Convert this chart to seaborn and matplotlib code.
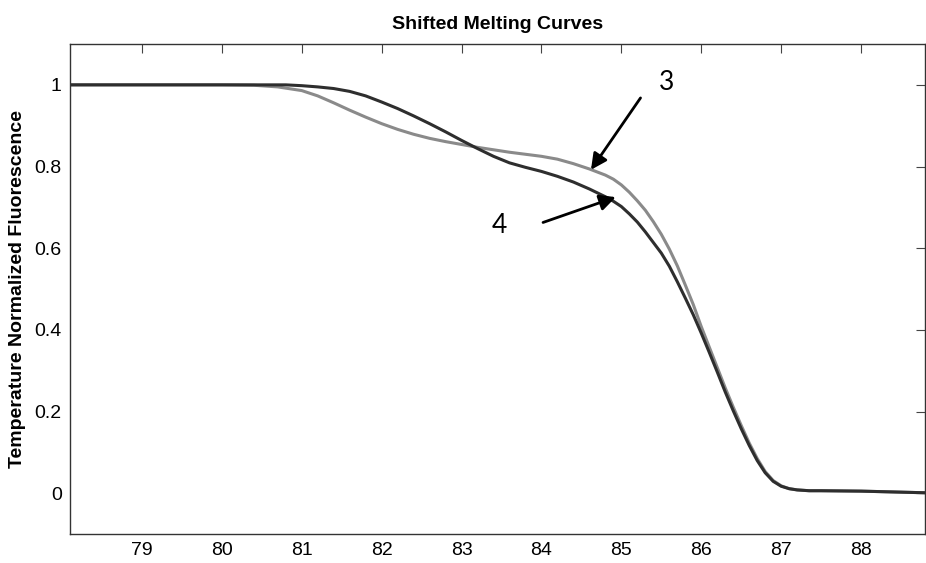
import pandas as pd
import matplotlib
matplotlib.use('Agg')
import matplotlib.pyplot as plt
import seaborn as sns

# curve 3 (light grey)
temp_3 = [78.1, 79.0, 80.0, 80.4, 80.7, 81.0, 81.2, 81.4, 81.6, 81.8, 82.0, 82.2,
          82.4, 82.6, 82.8, 83.0, 83.2, 83.4, 83.6, 83.8, 84.0, 84.2, 84.4, 84.6,
          84.8, 84.9, 85.0, 85.1, 85.2, 85.3, 85.4, 85.5, 85.6, 85.7, 85.8, 85.9,
          86.0, 86.1, 86.2, 86.3, 86.4, 86.5, 86.6, 86.7, 86.8, 86.9, 87.0, 87.1,
          87.2, 87.35, 87.5, 88.0, 88.4, 88.8]
fluor_3 = [1.000, 1.000, 1.000, 0.999, 0.995, 0.986, 0.973, 0.956, 0.938, 0.921,
           0.905, 0.891, 0.879, 0.869, 0.861, 0.854, 0.847, 0.841, 0.835, 0.830,
           0.825, 0.818, 0.807, 0.794, 0.779, 0.769, 0.755, 0.737, 0.716, 0.693,
           0.665, 0.634, 0.598, 0.557, 0.510, 0.462, 0.408, 0.358, 0.308, 0.258,
           0.211, 0.166, 0.123, 0.085, 0.053, 0.031, 0.018, 0.011, 0.008, 0.006,
           0.006, 0.005, 0.003, 0.001]

# curve 4 (dark grey)
temp_4 = [78.1, 80.0, 80.8, 81.0, 81.2, 81.4, 81.6, 81.8, 82.0, 82.2, 82.4, 82.6,
          82.8, 83.0, 83.2, 83.4, 83.6, 83.8, 84.0, 84.2, 84.4, 84.6, 84.8, 84.9,
          85.0, 85.1, 85.2, 85.3, 85.4, 85.5, 85.6, 85.7, 85.8, 85.9, 86.0, 86.1,
          86.2, 86.3, 86.4, 86.5, 86.6, 86.7, 86.8, 86.9, 87.0, 87.1, 87.2, 87.35,
          87.5, 88.0, 88.4, 88.8]
fluor_4 = [1.000, 1.000, 1.000, 0.998, 0.995, 0.991, 0.984, 0.973, 0.958, 0.942,
           0.924, 0.905, 0.885, 0.864, 0.844, 0.825, 0.809, 0.798, 0.788, 0.776,
           0.762, 0.745, 0.726, 0.715, 0.702, 0.684, 0.664, 0.640, 0.614, 0.588,
           0.556, 0.518, 0.478, 0.437, 0.392, 0.345, 0.297, 0.248, 0.202, 0.158,
           0.117, 0.080, 0.050, 0.029, 0.017, 0.011, 0.008, 0.006, 0.006, 0.005,
           0.003, 0.001]

x_ticks = [79, 80, 81, 82, 83, 84, 85, 86, 87, 88]
y_ticks = [0, 0.2, 0.4, 0.6, 0.8, 1]
y_tick_labels = ['0', '0.2', '0.4', '0.6', '0.8', '1']

df = pd.concat([
    pd.DataFrame({'temp': temp_3, 'fluor': fluor_3, 'curve': '3'}),
    pd.DataFrame({'temp': temp_4, 'fluor': fluor_4, 'curve': '4'}),
], ignore_index=True)

sns.set_style('white')
plt.rcParams['font.family'] = ['Liberation Sans', 'DejaVu Sans']
plt.rcParams['text.color'] = 'black'
plt.rcParams['axes.labelcolor'] = 'black'
plt.rcParams['xtick.labelcolor'] = 'black'
plt.rcParams['ytick.labelcolor'] = 'black'

fig = plt.figure(figsize=(9.26, 5.63), dpi=100)
ax = fig.add_axes([0.0756, 0.0515, 0.9233, 0.8703])

sns.lineplot(data=df, x='temp', y='fluor', hue='curve', hue_order=['3', '4'],
             palette={'3': '#8a8a8a', '4': '#2e2e2e'}, linewidth=2.2,
             estimator=None, sort=False, legend=False, ax=ax)

ax.set_xlim(78.1, 88.8)
ax.set_ylim(-0.1, 1.1)
ax.set_xticks(x_ticks)
ax.set_xticklabels([str(t) for t in x_ticks])
ax.set_yticks(y_ticks)
ax.set_yticklabels(y_tick_labels)
ax.tick_params(direction='in', length=6.5, width=0.8, color='#444444',
               labelsize=14, pad=6, top=True, right=True)
for s in ax.spines.values():
    s.set_color('#333333')
    s.set_linewidth(1.0)

ax.set_xlabel('')
ax.set_ylabel('Temperature Normalized Fluorescence', fontsize=14, fontweight='bold', labelpad=6)
ax.set_title('Shifted Melting Curves', fontsize=14, fontweight='bold', pad=10.5)

# arrows marking the two curves
arrow = dict(arrowstyle='-|>', color='black', lw=2, mutation_scale=24, shrinkA=0, shrinkB=0)
ax.annotate('', xy=(84.62, 0.792), xytext=(85.24, 0.968), arrowprops=arrow)
ax.annotate('', xy=(84.93, 0.725), xytext=(84.02, 0.663), arrowprops=arrow)
ax.text(85.57, 1.005, '3', fontsize=19, family=['Lato', 'DejaVu Sans'], ha='center', va='center')
ax.text(83.47, 0.655, '4', fontsize=19, family=['Lato', 'DejaVu Sans'], ha='center', va='center')

plt.savefig('out.png', dpi=100)
plt.close()
